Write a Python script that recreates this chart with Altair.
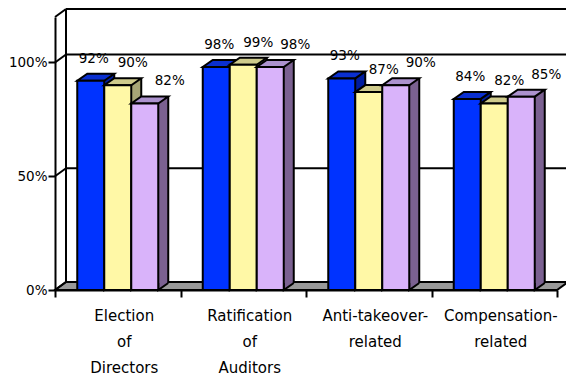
import altair as alt
import pandas as pd

# ---- data ----
categories = ["Election of Directors", "Ratification of Auditors",
              "Anti-takeover-related", "Compensation-related"]
series = ["Series 1", "Series 2", "Series 3"]
values_1 = [92, 98, 93, 84]
values_2 = [90, 99, 87, 82]
values_3 = [82, 98, 90, 85]
y_tick_values = [0, 50, 100]
y_max = 120

# ---- styles ----
FONT = "DejaVu Sans"
front_colors = ["#0033FF", "#FFF8A6", "#D9B3FA"]
top_colors = ["#0A2FD0", "#CFCB8C", "#AC92CE"]
side_colors = ["#001CA0", "#A8A676", "#7B6191"]
floor_color = "#999999"
bar_offsets = [-27, 0, 27]          # pixel offset of each series inside a group
label_offsets = [-24, 15, 52]       # pixel offset of value labels
BAR_W = 27
DX, DY = 10, 7                      # bar depth
WDX, WDY = 11, 8                    # wall depth
W, H = 502, 273
SW = 2

rows = []
for s, vals in zip(series, [values_1, values_2, values_3]):
    for c, v in zip(categories, vals):
        rows.append({"category": c, "series": s, "value": v, "zero": 0})
df = pd.DataFrame(rows)
wall_df = pd.DataFrame({"value": y_tick_values + [y_max]})
frame_df = pd.DataFrame({"value": [0], "top": [y_max]})

x_axis = alt.Axis(
    title=None, labelAngle=0,
    labelExpr="split(replace(datum.label, '-related', '- related'), ' ')",
    labelFont=FONT, labelFontSize=15, labelLineHeight=26, labelPadding=11,
    labelOffset=6, labelColor="black", labelBaseline="top",
    tickSize=7, tickWidth=SW, tickColor="black", tickBand="extent",
    domainColor="black", domainWidth=SW, grid=False,
)
y_axis = alt.Axis(
    title=None, values=y_tick_values, labelExpr="datum.value + '%'",
    labelFont=FONT, labelFontSize=13.5, labelPadding=1, labelColor="black",
    tickSize=7, tickWidth=SW, tickColor="black",
    domainColor="black", domainWidth=SW, grid=False,
)
x_enc = alt.X("category:N", sort=categories,
              scale=alt.Scale(paddingInner=0, paddingOuter=0), axis=x_axis)
y_scale = alt.Scale(domain=[0, y_max], nice=False, zero=True)
y_enc = alt.Y("value:Q", scale=y_scale, axis=y_axis)

layers = []

# floor
floor_path = f"M0,0L{W},0L{W + WDX},-{WDY}L{WDX},-{WDY}Z"
layers.append(
    alt.Chart(frame_df).mark_point(shape=floor_path, size=4, filled=True, fill=floor_color,
                                   stroke="black", strokeWidth=SW, opacity=1)
    .encode(x=alt.value(0), y=y_enc)
)
# back wall horizontal lines
layers.append(
    alt.Chart(wall_df).mark_rule(color="black", strokeWidth=SW, yOffset=-WDY, x2Offset=WDX)
    .encode(x=alt.value(WDX), x2=alt.value("width"), y=y_enc)
)
# back wall left edge
layers.append(
    alt.Chart(frame_df).mark_rule(color="black", strokeWidth=SW, yOffset=-WDY, y2Offset=-WDY)
    .encode(x=alt.value(WDX), y=y_enc, y2="top:Q")
)
# left wall diagonals
layers.append(
    alt.Chart(wall_df).mark_rule(color="black", strokeWidth=SW, y2Offset=-WDY)
    .encode(x=alt.value(0), x2=alt.value(WDX), y=y_enc, y2="value:Q")
)

top_path = f"M{-BAR_W/2},0L{BAR_W/2},0L{BAR_W/2 + DX},-{DY}L{-BAR_W/2 + DX},-{DY}Z"
tri_path = f"M{DX},-{DY}L0,0L0,-{DY}"

for i, s in enumerate(series):
    base = alt.Chart(df).transform_filter(alt.datum.series == s)
    o = bar_offsets[i]
    # side face body
    layers.append(
        base.mark_bar(width=DX, xOffset=o + BAR_W / 2 + DX / 2, yOffset=-DY, y2Offset=-DY,
                      color=side_colors[i], opacity=1, strokeWidth=0)
        .encode(x=x_enc, y=y_enc)
    )
    # side face bottom triangle
    layers.append(
        base.mark_point(shape=tri_path, size=4, filled=True, fill=side_colors[i],
                        stroke="black", strokeWidth=SW, opacity=1, xOffset=o + BAR_W / 2)
        .encode(x=x_enc, y=alt.Y("zero:Q", scale=y_scale, axis=y_axis))
    )
    # side face right edge
    layers.append(
        base.mark_rule(color="black", strokeWidth=SW, xOffset=o + BAR_W / 2 + DX,
                       yOffset=-DY, y2Offset=-DY)
        .encode(x=x_enc, y=y_enc, y2="zero:Q")
    )
    # top face
    layers.append(
        base.mark_point(shape=top_path, size=4, filled=True, fill=top_colors[i],
                        stroke="black", strokeWidth=SW, opacity=1, xOffset=o)
        .encode(x=x_enc, y=y_enc)
    )
    # front face
    layers.append(
        base.mark_bar(width=BAR_W, xOffset=o, color=front_colors[i], stroke="black",
                      strokeWidth=SW, opacity=1)
        .encode(x=x_enc, y=y_enc)
    )

for i, s in enumerate(series):
    layers.append(
        alt.Chart(df).transform_filter(alt.datum.series == s)
        .transform_calculate(label="datum.value + '%'")
        .mark_text(xOffset=label_offsets[i], yOffset=-22, baseline="middle", align="center",
                   font=FONT, fontSize=13.5, color="black")
        .encode(x=x_enc, y=y_enc, text="label:N")
    )

chart = (
    alt.layer(*layers)
    .properties(width=W, height=H, autosize=alt.AutoSizeParams(type="none"),
                padding={"left": 55, "top": 17, "right": 9, "bottom": 86},
                background="white")
    .configure_view(stroke=None)
)

chart.save("out.html", embed_options={"renderer": "svg", "actions": False})
